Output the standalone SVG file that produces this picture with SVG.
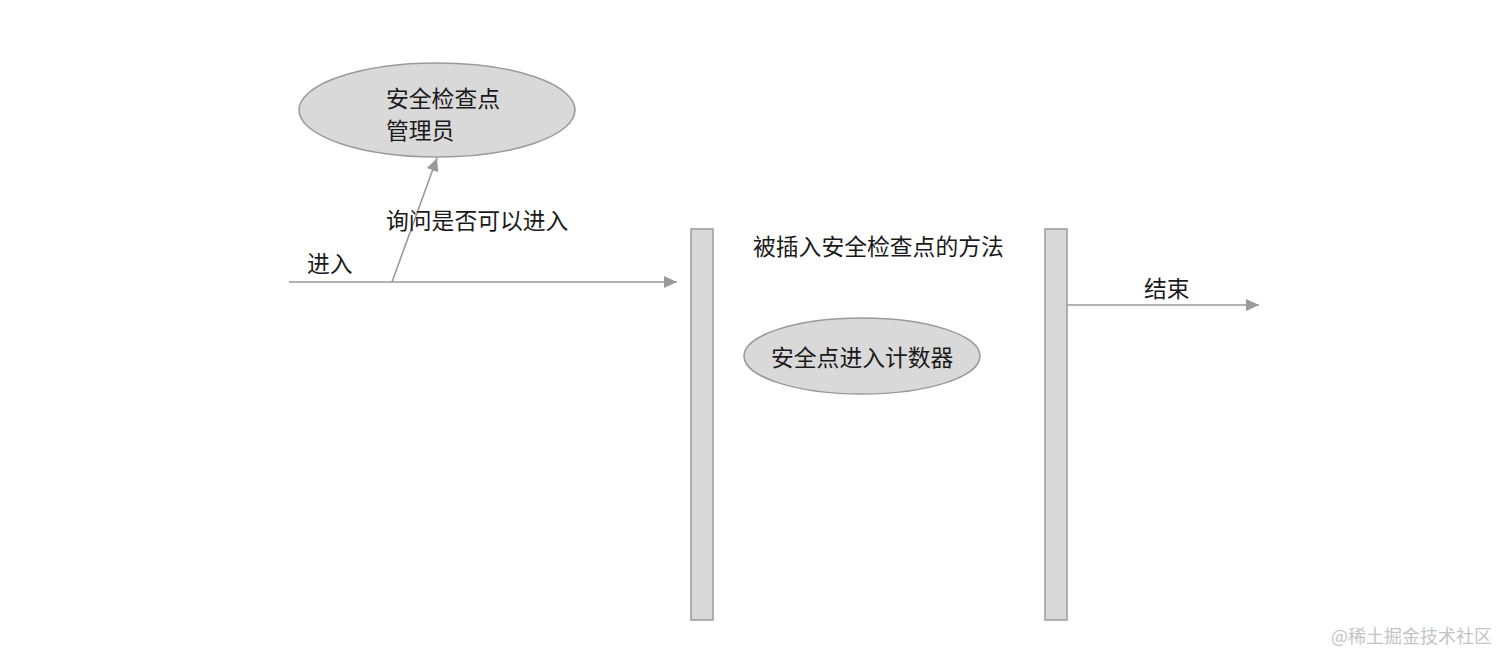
<svg xmlns="http://www.w3.org/2000/svg" width="1512" height="666" viewBox="0 0 1512 666">
<style>
.shape{fill:#d9d9d9;stroke:#9a9a9a;stroke-width:1.5}
.line{stroke:#9a9a9a;stroke-width:1.6;fill:none}
.t{font-family:"Noto Sans CJK SC","Noto Sans",sans-serif;font-size:22.8px;fill:#1a1a1a}
.wm{font-family:"Noto Sans CJK SC","Noto Sans",sans-serif;font-size:18px;fill:#c4c4c4}
</style>
<defs>
<marker id="arr" viewBox="0 0 13 12" refX="13" refY="6" markerWidth="13" markerHeight="12" markerUnits="userSpaceOnUse" orient="auto">
<path d="M0,0 L13,6 L0,12 Z" fill="#9a9a9a"/>
</marker>
</defs>
<rect width="1512" height="666" fill="#fff"/>
<g id="connectors">
<line class="line" x1="289" y1="282" x2="677" y2="282" marker-end="url(#arr)"/>
<line class="line" x1="392" y1="282" x2="437" y2="158" marker-end="url(#arr)"/>
<line class="line" x1="1067" y1="305" x2="1259" y2="305" marker-end="url(#arr)"/>
<text class="t" x="307" y="272">进入</text>
<text class="t" x="386" y="229">询问是否可以进入</text>
<text class="t" x="1144" y="297">结束</text>
</g>
<g id="manager">
<ellipse class="shape" cx="437" cy="110" rx="138" ry="47"/>
<text class="t" x="386" y="107">安全检查点</text>
<text class="t" x="386" y="139">管理员</text>
</g>
<g id="bar-left">
<rect class="shape" x="691" y="229" width="22" height="391"/>
</g>
<g id="method">
<text class="t" x="753" y="255">被插入安全检查点的方法</text>
</g>
<g id="counter">
<ellipse class="shape" cx="862" cy="356" rx="118" ry="38"/>
<text class="t" x="771" y="366">安全点进入计数器</text>
</g>
<g id="bar-right">
<rect class="shape" x="1045" y="229" width="22" height="391"/>
</g>
<text class="wm" x="1331" y="643">@稀土掘金技术社区</text>
</svg>
